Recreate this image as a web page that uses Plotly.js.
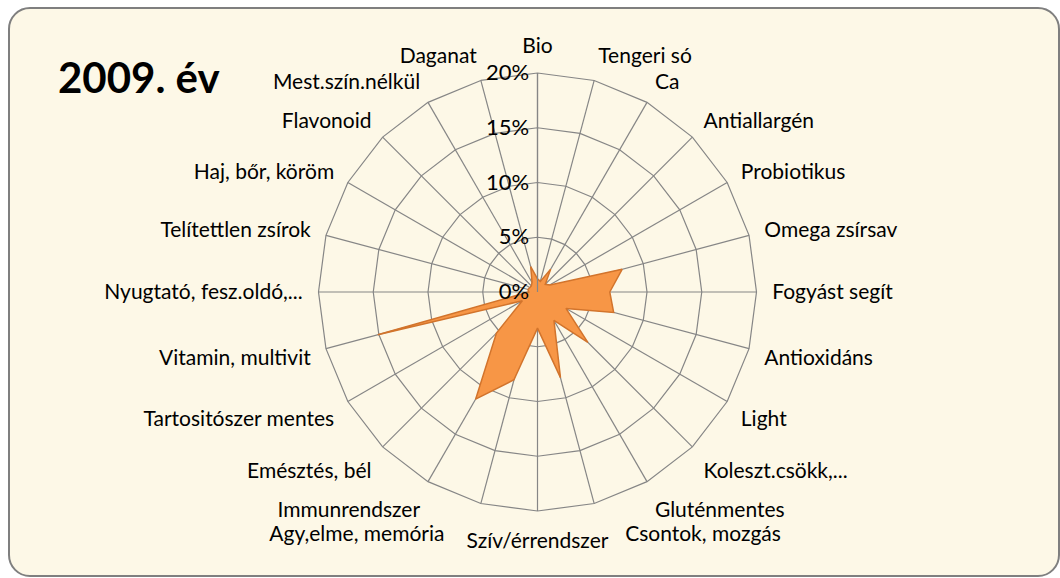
<!DOCTYPE html>
<html>
<head>
<meta charset="utf-8">
<script src="https://cdn.plot.ly/plotly-3.0.1.min.js"></script>
<style>
  html, body { margin: 0; padding: 0; background: #ffffff; }
  #frame { position: absolute; left: 8px; top: 7px; width: 1048px; height: 566px;
           border: 2px solid #7f7f7f; border-radius: 22px; background: #FDF8E7; }
  #chart { position: absolute; left: 0; top: 0; width: 1060px; height: 578px; }
</style>
</head>
<body>
<div id="frame"></div>
<div id="chart"></div>
<script>
const chartTitle = "2009. év";
const categories = [
  "Bio", "Tengeri só", "Ca", "Antiallargén", "Probiotikus", "Omega zsírsav",
  "Fogyást segít", "Antioxidáns", "Light", "Koleszt.csökk,...", "Gluténmentes",
  "Csontok, mozgás", "Szív/érrendszer", "Agy,elme, memória", "Immunrendszer",
  "Emésztés, bél", "Tartositószer mentes", "Vitamin, multivit", "Nyugtató, fesz.oldó,...",
  "Telítettlen zsírok", "Haj, bőr, köröm", "Flavonoid", "Mest.szín.nélkül", "Daganat"
];
const values2009 = [
  1.2, 1.0, 2.4, 1.0, 1.3, 8.0,
  6.6, 7.2, 3.0, 6.5, 3.0,
  8.1, 3.3, 8.3, 11.3,
  5.3, 1.6, 15.1, 0.8,
  0.9, 0.8, 0.8, 1.0, 2.4
];
const radialTicks = [0, 5, 10, 15, 20];
const radialTickText = ["0%", "5%", "10%", "15%", "20%"];

const W = 1060, H = 578;
const cx = 537.5, cy = 292, R = 219;

// angular tick texts: nudge the two labels next to the bottom one sideways so they don't collide
const NB = "\u00a0";
const angularTickText = categories.map(function (c) {
  if (c === "Agy,elme, memória") return c + NB.repeat(6);
  if (c === "Csontok, mozgás") return NB.repeat(5) + c;
  return c;
});

const trace = {
  type: "scatterpolar",
  r: values2009.concat([values2009[0]]),
  theta: categories.concat([categories[0]]),
  mode: "lines",
  fill: "toself",
  fillcolor: "#F79646",
  line: { color: "#D2742C", width: 1.5 },
  hoverinfo: "skip",
  showlegend: false
};

const layout = {
  width: W, height: H,
  margin: { l: 0, r: 0, t: 0, b: 0 },
  paper_bgcolor: "rgba(0,0,0,0)",
  plot_bgcolor: "rgba(0,0,0,0)",
  font: { family: "Lato, 'Open Sans', sans-serif", color: "#000000", size: 21 },
  title: {
    text: "<b>" + chartTitle + "</b>",
    x: 58 / W, xanchor: "left",
    y: 1 - 78 / H, yanchor: "middle",
    font: { family: "Lato, sans-serif", size: 42, color: "#000000" }
  },
  polar: {
    domain: { x: [(cx - R) / W, (cx + R) / W], y: [(H - cy - R) / H, (H - cy + R) / H] },
    bgcolor: "rgba(0,0,0,0)",
    gridshape: "linear",
    radialaxis: {
      range: [0, 20],
      tickvals: radialTicks,
      ticktext: radialTickText,
      angle: 90,
      side: "counterclockwise",
      tickangle: 90,
      showline: true,
      linecolor: "#868686",
      linewidth: 1.2,
      gridcolor: "#868686",
      gridwidth: 1.2,
      ticks: "",
      layer: "above traces",
      tickfont: { size: 22, color: "#000000" }
    },
    angularaxis: {
      direction: "clockwise",
      rotation: 90,
      type: "category",
      categoryarray: categories,
      tickvals: categories,
      ticktext: angularTickText,
      showline: true,
      linecolor: "#868686",
      linewidth: 1.2,
      gridcolor: "#868686",
      gridwidth: 1.2,
      ticks: "outside",
      ticklen: 11,
      tickcolor: "rgba(0,0,0,0)",
      layer: "above traces",
      tickfont: { size: 21, color: "#000000" }
    }
  }
};

Plotly.newPlot("chart", [trace], layout, { staticPlot: true, displayModeBar: false });
</script>
</body>
</html>
